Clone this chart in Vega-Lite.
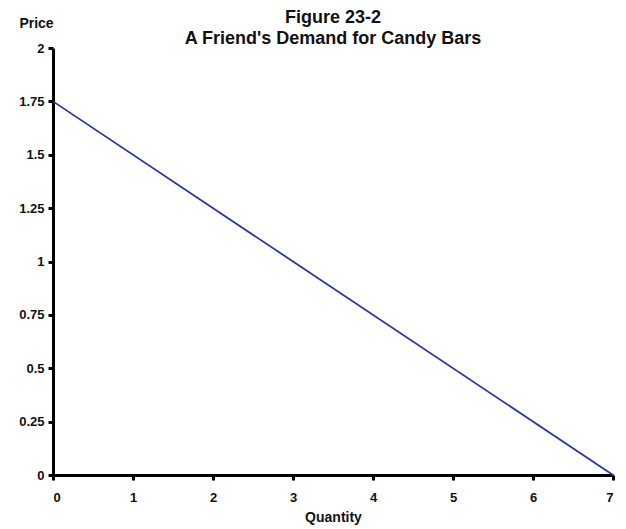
{
  "$schema": "https://vega.github.io/schema/vega-lite/v6.json",
  "width": 560,
  "height": 427,
  "autosize": "none",
  "padding": {"left": 53, "top": 48, "right": 13, "bottom": 54},
  "background": "white",
  "title": {
    "text": ["Figure 23-2", "A Friend's Demand for Candy Bars"],
    "font": "Liberation Sans",
    "fontSize": 18,
    "fontWeight": "bold",
    "color": "#111",
    "lineHeight": 21,
    "anchor": "middle",
    "offset": 0,
    "dy": 32
  },
  "config": {"view": {"stroke": null}},
  "data": {"values": [
    {"quantity": 0, "price": 1.75},
    {"quantity": 7, "price": 0}
  ]},
  "mark": {"type": "line", "color": "#2b3990", "strokeWidth": 1.8},
  "encoding": {
    "x": {
      "field": "quantity", "type": "quantitative",
      "scale": {"domain": [0, 7], "nice": false},
      "axis": {
        "title": "Quantity", "titleFont": "Liberation Sans", "titleFontSize": 14, "titleFontWeight": "bold",
        "titleColor": "#111", "titlePadding": 6,
        "values": [0, 1, 2, 3, 4, 5, 6, 7], "format": "d",
        "grid": false, "domainColor": "#000", "domainWidth": 3,
        "tickColor": "#000", "tickWidth": 3, "tickSize": 5,
        "labelFont": "Liberation Sans", "labelFontSize": 13, "labelFontWeight": "bold",
        "labelColor": "#111", "labelPadding": 11
      }
    },
    "y": {
      "field": "price", "type": "quantitative",
      "scale": {"domain": [0, 2], "nice": false},
      "axis": {
        "title": "Price", "titleFont": "Liberation Sans", "titleFontSize": 14, "titleFontWeight": "bold",
        "titleColor": "#111", "titleAngle": 0, "titleAlign": "center", "titleBaseline": "middle",
        "titleX": -17, "titleY": -25,
        "values": [0, 0.25, 0.5, 0.75, 1, 1.25, 1.5, 1.75, 2],
        "labelExpr": "datum.value + ''",
        "grid": false, "domainColor": "#000", "domainWidth": 3,
        "tickColor": "#000", "tickWidth": 3, "tickSize": 5,
        "labelFont": "Liberation Sans", "labelFontSize": 13, "labelFontWeight": "bold",
        "labelColor": "#111", "labelPadding": 4
      }
    }
  }
}
